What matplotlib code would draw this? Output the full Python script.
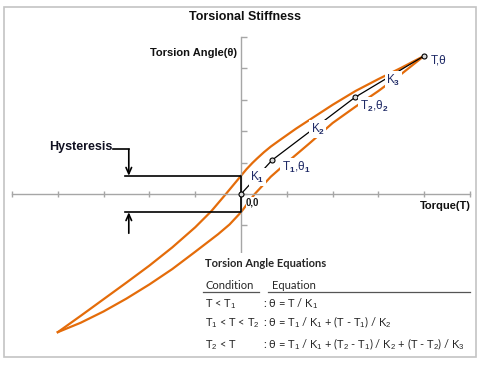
import matplotlib
matplotlib.use('Agg')
import matplotlib.pyplot as plt
import numpy as np
from matplotlib.patches import Rectangle
from matplotlib.lines import Line2D

plt.rcParams['font.family'] = ['Liberation Sans', 'DejaVu Sans']
plt.rcParams['mathtext.fontset'] = 'custom'
plt.rcParams['mathtext.rm'] = 'Liberation Sans'
plt.rcParams['mathtext.it'] = 'Liberation Sans:italic'
plt.rcParams['mathtext.bf'] = 'Liberation Sans:bold'

# hysteresis loop (torque T, angle theta, axis units)
upper_T = [-4.0, -3.5, -3.0, -2.5, -2.0, -1.5, -1.0, -0.65, -0.33, 0.0,
           0.12, 0.25, 0.35, 0.5, 0.65, 0.85, 1.2, 1.6, 2.0, 2.5, 3.0, 3.5, 4.0]
upper_theta = [-4.4, -3.88, -3.35, -2.82, -2.28, -1.70, -1.06, -0.55, 0.0, 0.58,
               0.79, 0.99, 1.13, 1.33, 1.51, 1.72, 2.08, 2.46, 2.84, 3.28, 3.66, 4.02, 4.40]
lower_T = [-4.0, -3.5, -3.0, -2.5, -2.0, -1.5, -1.0, -0.5, -0.25, 0.0,
           0.3, 0.65, 1.0, 1.5, 2.0, 2.5, 3.0, 3.5, 4.0]
lower_theta = [-4.4, -4.10, -3.74, -3.33, -2.88, -2.39, -1.84, -1.28, -0.97, -0.58,
               0.0, 0.55, 1.0, 1.62, 2.26, 2.78, 3.28, 3.82, 4.4]

# piecewise linear stiffness model
pts_T = [0.0, 0.68, 2.49, 4.0]
pts_theta = [0.0, 1.08, 3.08, 4.4]
pt_labels = ['0,0', r'T$_\mathbf{1}$,θ$_\mathbf{1}$', r'T$_\mathbf{2}$,θ$_\mathbf{2}$', 'T,θ']
k_labels = [r'K$_\mathbf{1}$', r'K$_\mathbf{2}$', r'K$_\mathbf{3}$']

eq_conditions = [r'T < T$_1$', r'T$_1$ < T < T$_2$', r'T$_2$ < T']
eq_formulas = [r': θ = T / K$_1$',
               r': θ = T$_1$ / K$_1$ + (T - T$_1$) / K$_2$',
               r': θ = T$_1$ / K$_1$ + (T$_2$ - T$_1$) / K$_2$ + (T - T$_2$) / K$_3$']

W, H = 484, 367
orange = '#E46C0A'
navy = '#1F2A66'
axis_gray = '#A6A6A6'


def px(x, y):
    return x / W, 1 - y / H


fig = plt.figure(figsize=(W / 100, H / 100), dpi=100)
ax = fig.add_axes([12 / W, (H - 351) / H, 458 / W, 314 / H])
ax.set_xlim(-5, 5)
ax.set_ylim(-5, 5)
ax.patch.set_visible(False)

for s in ['top', 'right']:
    ax.spines[s].set_visible(False)
ax.spines['left'].set_position(('data', 0))
ax.spines['bottom'].set_position(('data', 0))
for s in ['left', 'bottom']:
    ax.spines[s].set_color(axis_gray)
    ax.spines[s].set_linewidth(1.0)
ax.set_xticks(range(-5, 6))
ax.set_yticks(range(-5, 6))
ax.set_xticklabels([])
ax.set_yticklabels([])
ax.tick_params(axis='x', direction='inout', length=5, color=axis_gray, width=1)
ax.tick_params(axis='y', direction='in', length=4, color=axis_gray, width=1)

# hysteresis curves
ax.plot(upper_T, upper_theta, color=orange, lw=1.6, solid_joinstyle='round', zorder=2)
ax.plot(lower_T, lower_theta, color=orange, lw=1.6, solid_joinstyle='round', zorder=2)

# stiffness segments + points
ax.plot(pts_T, pts_theta, color='black', lw=0.9, zorder=2.5)
ax.plot(pts_T, pts_theta, 'o', ms=3.6, mfc='#d9d9d9', mec='black', mew=0.8, zorder=4)

lbl_box = dict(boxstyle='square,pad=0.15', fc='white', ec='none')
pt_offsets = [(3.6, -6.0), (6.8, -5.2), (3.4, -6.3), (4.8, -3.5)]
for i, (t, th) in enumerate(zip(pts_T, pts_theta)):
    if i == 0:
        ax.annotate(pt_labels[i], (t, th), xytext=pt_offsets[i], textcoords='offset points',
                    ha='left', va='center', fontsize=7, fontweight='bold', color='#1a1a1a',
                    bbox=dict(boxstyle='square,pad=0.05', fc='white', ec='none'), zorder=5)
    else:
        ax.annotate(pt_labels[i], (t, th), xytext=pt_offsets[i], textcoords='offset points',
                    ha='left', va='center', fontsize=8.5, color=navy, bbox=lbl_box, zorder=5)

k_offsets = [(0.5, 0.0), (3.0, -0.5), (2.5, -2.5)]
for i in range(3):
    mx = (pts_T[i] + pts_T[i + 1]) / 2
    my = (pts_theta[i] + pts_theta[i + 1]) / 2
    ax.annotate(k_labels[i], (mx, my), xytext=k_offsets[i], textcoords='offset points',
                ha='center', va='center', fontsize=8.5, color=navy,
                bbox=dict(boxstyle='square,pad=0.12', fc='white', ec='none'), zorder=5)

# hysteresis bracket
th_up = np.interp(0, upper_T, upper_theta)
th_lo = np.interp(0, lower_T, lower_theta)
ax.plot([-2.53, 0, 0, -2.53], [th_up, th_up, th_lo, th_lo], color='black', lw=1.2, zorder=3)
ax.plot([-2.79, -2.45], [1.42, 1.42], color='black', lw=1.2, zorder=3)
arrow = dict(arrowstyle='->,head_length=0.45,head_width=0.2', color='black', lw=1.2,
             shrinkA=0, shrinkB=0)
ax.annotate('', xy=(-2.45, th_up), xytext=(-2.45, 1.42), arrowprops=arrow, zorder=3)
ax.annotate('', xy=(-2.45, th_lo), xytext=(-2.45, -1.25), arrowprops=arrow, zorder=3)

# titles / axis names
fig.text(*px(245, 17.5), 'Torsional Stiffness', ha='center', va='center',
         fontsize=9, fontweight='bold', color='#111111')
fig.text(*px(237, 53), 'Torsion Angle(θ)', ha='right', va='center',
         fontsize=8, fontweight='bold', color='#111111')
fig.text(*px(471, 206), 'Torque(T)', ha='right', va='center',
         fontsize=8, fontweight='bold', color='#111111')
fig.text(*px(112, 147), 'Hysteresis', ha='right', va='center',
         fontsize=9, fontweight='bold', color='#111122')

# equations box
fig.patches.append(Rectangle(px(200, 355), 274 / W, 102 / H, transform=fig.transFigure,
                             fc='white', ec='none', zorder=2))
box_font = ['Lato', 'DejaVu Sans']
tcol = '#262626'
fig.text(*px(205, 267.3), 'Torsion Angle Equations', ha='left', va='baseline',
         fontsize=8, fontweight='bold', family=box_font, color=tcol, zorder=3)
fig.text(*px(205, 289), 'Condition', ha='left', va='baseline', fontsize=8,
         family=box_font, color=tcol, zorder=3)
fig.text(*px(272, 289), 'Equation', ha='left', va='baseline', fontsize=8,
         family=box_font, color=tcol, zorder=3)
for x0, x1 in [(202.7, 259.3), (268.3, 470)]:
    fig.lines.append(Line2D([x0 / W, x1 / W], [1 - 292.3 / H] * 2, transform=fig.transFigure,
                            color='#555555', lw=0.9, zorder=3))
for cond, form, yb in zip(eq_conditions, eq_formulas, [307.3, 326.7, 348.3]):
    fig.text(*px(205, yb), cond, ha='left', va='baseline', fontsize=8,
             family=box_font, color=tcol, zorder=3)
    fig.text(*px(262.7, yb), form, ha='left', va='baseline', fontsize=8,
             family=box_font, color=tcol, zorder=3)

# outer frame
fig.patches.append(Rectangle(px(3.5, 356.5), 472 / W, 350 / H, transform=fig.transFigure,
                             fill=False, ec='#c4c4c4', lw=1.2, zorder=4))

fig.savefig('out.png', dpi=100)
